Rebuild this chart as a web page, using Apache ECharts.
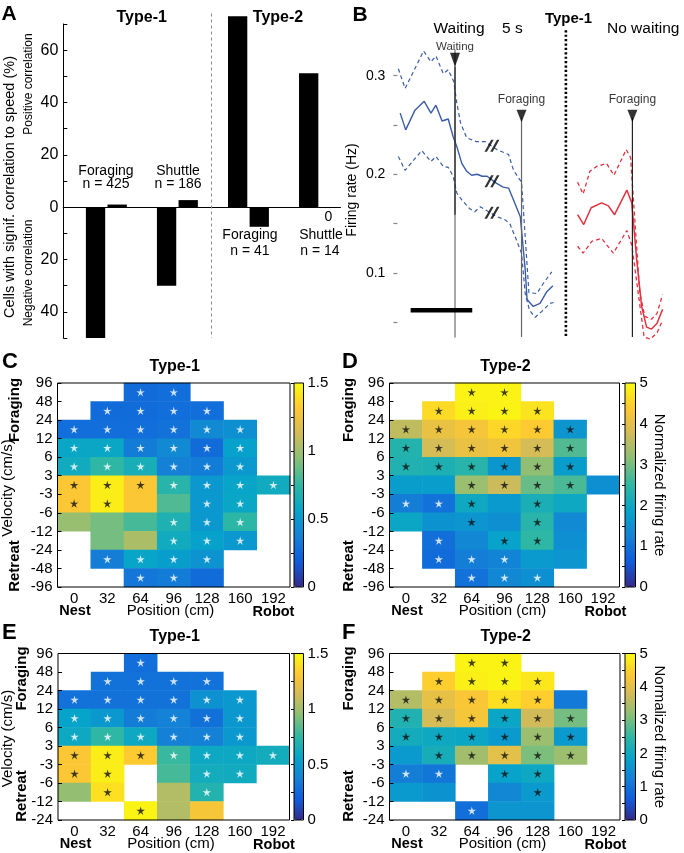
<!DOCTYPE html>
<html><head><meta charset="utf-8">
<script src="https://cdn.jsdelivr.net/npm/echarts@6/dist/echarts.min.js"></script>
<style>html,body{margin:0;padding:0;background:#fff}#c{width:684px;height:853px}</style>
</head><body><div id="c"></div>
<script>
// ===================== DATA =====================
// Panel A: % cells with significant correlation to speed (positive up, negative down)
const aGroups = ['Type-1 Foraging', 'Type-1 Shuttle', 'Type-2 Foraging', 'Type-2 Shuttle'];
const aLeftBar = [-50, -30, 73, 51.2];
const aRightBar = [1, 2.7, -7.5, 0];
const aDividerPos = 2.48;

// Panel B: firing rate (Hz) vs display time (s), waiting onset at t=0
const blueMeanT = [-0.89,-0.80,-0.65,-0.50,-0.39,-0.31,-0.21,-0.11,-0.03,0.03,0.11,0.19,0.27,0.36,0.44,0.52,0.67,0.78,0.87,0.95,1.06,1.08,1.14,1.17,1.27,1.38,1.49,1.59];
const blueMean  = [0.262,0.245,0.265,0.274,0.262,0.270,0.254,0.256,0.238,0.228,0.211,0.203,0.199,0.200,0.198,0.198,0.191,0.187,0.186,0.174,0.157,0.155,0.103,0.073,0.066,0.069,0.081,0.087];
const blueUpperT = [-0.92,-0.81,-0.51,-0.39,-0.31,-0.19,-0.11,-0.02,0.03,0.09,0.19,0.35,0.49,0.68,0.87,0.95,1.08,1.20,1.33,1.43,1.57];
const blueUpper  = [0.307,0.287,0.325,0.314,0.320,0.302,0.306,0.294,0.272,0.252,0.237,0.233,0.233,0.225,0.220,0.204,0.192,0.080,0.079,0.089,0.101];
const blueLowerT = [-0.92,-0.81,-0.54,-0.39,-0.31,-0.19,-0.11,-0.03,0.03,0.11,0.24,0.32,0.41,0.68,0.81,0.89,1.00,1.08,1.14,1.21,1.30,1.41,1.54,1.60];
const blueLower  = [0.218,0.204,0.224,0.213,0.218,0.208,0.207,0.198,0.181,0.174,0.165,0.162,0.167,0.157,0.154,0.150,0.133,0.120,0.079,0.062,0.055,0.061,0.069,0.070];
const redMeanT = [1.99,2.09,2.21,2.38,2.49,2.59,2.79,2.87,2.95,3.03,3.11,3.19,3.28,3.37];
const redMean  = [0.159,0.149,0.166,0.171,0.168,0.159,0.184,0.171,0.113,0.066,0.045,0.043,0.049,0.063];
const redUpperT = [1.99,2.08,2.19,2.30,2.46,2.58,2.78,2.85,3.00,3.08,3.19,3.28,3.37];
const redUpper  = [0.192,0.180,0.203,0.208,0.211,0.199,0.225,0.217,0.080,0.056,0.053,0.059,0.078];
const redLowerT = [1.99,2.08,2.22,2.38,2.57,2.79,2.87,3.07,3.17,3.28,3.37];
const redLower  = [0.127,0.120,0.132,0.135,0.120,0.143,0.128,0.035,0.033,0.039,0.052];
const eventT = [0, 1.08, 2.88];
const eventLabels = ['Waiting', 'Foraging', 'Foraging'];
const eventMarkerV = [0.316, 0.259, 0.259];
const eventLineTop = [0.309, 0.257, 0.257];
const eventLineBottom = [0.159, 0.035, 0.035];
const dividerT = 1.80;
const dividerV = [0.346, 0.035];
const scaleBarT = [-0.72, 0.28];
const scaleBarV = 0.062;
const breakT = 0.60;
const breakV = [0.229, 0.193, 0.161];
const bYTicks = [0.1, 0.2, 0.3];

// Panels C-F: heatmaps (rows top->bottom, columns = position)
const posCats = ['0', '32', '64', '96', '128', '160', '192'];
const velEdgesCD = ['96','48','24','12','6','3','-3','-6','-12','-24','-48','-96'];
const velEdgesEF = ['96','48','24','12','6','3','-3','-6','-12','-24'];
const cRate = [
  [null,null,0.27,0.28,null,null,null],
  [null,0.27,0.27,0.28,0.28,null,null],
  [0.28,0.28,0.28,0.30,0.42,0.45,null],
  [0.58,0.58,0.35,0.42,0.27,0.55,null],
  [0.62,0.75,0.65,0.37,0.35,0.50,null],
  [1.30,1.45,1.30,0.72,0.50,0.57,0.62],
  [1.30,1.45,1.30,0.82,0.50,0.58,null],
  [0.98,0.90,0.80,0.68,0.50,0.74,null],
  [null,0.90,1.03,0.62,0.55,0.50,null],
  [null,0.36,0.57,0.53,0.47,null,null],
  [null,null,0.32,0.35,0.27,null,null]];
const cStars = [
  [0,0,1,1,0,0,0],[0,1,1,1,1,0,0],[1,1,1,1,1,1,0],[1,1,1,1,1,1,0],[1,1,1,1,1,1,0],
  [2,2,2,1,1,1,1],[2,2,0,0,1,1,0],[0,0,0,1,1,1,0],[0,0,0,1,1,1,0],[0,1,1,1,1,0,0],[0,0,1,1,0,0,0]];
const dRate = [
  [null,null,4.9,4.9,null,null,null],
  [null,4.6,4.85,4.9,4.7,null,null],
  [3.6,4.1,4.25,4.55,4.4,1.6,null],
  [2.35,3.8,4.1,4.2,3.8,2.75,null],
  [2.3,2.25,2.4,1.65,3.2,1.75,null],
  [1.75,1.75,3.3,3.7,2.9,2.7,1.5],
  [1.2,1.0,2.0,1.7,2.2,2.0,null],
  [1.95,1.55,1.6,1.5,2.4,1.4,null],
  [null,0.95,1.35,1.85,2.5,1.5,null],
  [null,0.9,1.2,1.3,1.7,1.6,null],
  [null,null,1.0,1.35,1.5,null,null]];
const dStars = [
  [0,0,2,2,0,0,0],[0,2,2,2,2,0,0],[2,2,2,2,2,2,0],[2,2,2,2,2,2,0],[2,2,2,2,2,2,0],
  [0,0,2,2,2,2,0],[1,1,2,0,2,0,0],[0,0,2,0,2,0,0],[0,1,0,2,2,0,0],[0,1,1,1,0,0,0],[0,0,1,1,1,0,0]];
const eRate = [
  [null,null,0.28,null,null,null,null],
  [null,0.30,0.30,0.30,0.30,null,null],
  [0.30,0.30,0.30,0.30,0.46,0.50,null],
  [0.56,0.50,0.35,0.38,0.29,0.50,null],
  [0.60,0.75,0.60,0.37,0.37,0.50,null],
  [1.30,1.45,1.32,0.77,0.60,0.60,0.63],
  [1.30,1.45,null,0.80,0.63,0.62,null],
  [0.97,1.40,null,1.05,0.70,null,null],
  [null,null,1.47,1.05,1.28,null,null]];
const eStars = [
  [0,0,1,0,0,0,0],[0,1,1,1,1,0,0],[1,1,1,1,1,1,0],[1,1,1,1,1,1,0],[1,1,1,1,1,1,0],
  [2,2,2,1,1,1,1],[2,2,0,0,1,1,0],[0,2,0,0,1,0,0],[0,0,2,0,0,0,0]];
const fRate = [
  [null,null,4.9,4.9,null,null,null],
  [null,4.45,4.85,4.9,4.75,null,null],
  [3.5,4.05,4.3,4.65,4.45,1.15,null],
  [2.3,3.8,4.25,1.95,3.75,3.0,null],
  [2.1,2.0,1.95,1.7,3.3,1.7,null],
  [1.7,2.15,3.35,4.0,3.05,3.3,null],
  [1.2,1.05,null,1.85,2.0,null,null],
  [1.7,1.55,null,1.35,1.7,null,null],
  [null,null,0.95,1.6,1.6,null,null]];
const fStars = [
  [0,0,2,2,0,0,0],[0,2,2,2,2,0,0],[2,2,2,2,2,0,0],[2,2,2,2,2,2,0],[2,2,2,2,2,2,0],
  [0,2,2,2,2,2,0],[1,1,0,2,2,0,0],[0,0,0,0,2,0,0],[0,0,1,0,0,0,0]];

// ===================== STYLE / LAYOUT =====================
const FONT = '"Liberation Sans", Arial, Helvetica, sans-serif';
const parula = ['#352a87','#0f5cdd','#1481d6','#06a4ca','#2eb7a4','#87bf77','#d1bb59','#fec832','#f9fb0e'];
const STAR = 'path://M10 0 L12.06 7.17 L19.51 6.91 L13.33 11.08 L15.88 18.09 L10 13.5 L4.12 18.09 L6.67 11.08 L0.49 6.91 L7.94 7.17 Z';
const SLASH = 'path://M0 16 L7 0 L9.6 0 L2.6 16 Z M6 16 L13 0 L15.6 0 L8.6 16 Z';
const BLUE = '#3a5ca6', RED = '#e2323f';

const grids = [], xAxes = [], yAxes = [], series = [], visualMaps = [], graphics = [];
function txt(x, y, s, o) {
  o = o || {};
  graphics.push({type: 'text', x: x, y: y, rotation: o.rot || 0, silent: true, z: 100,
    style: {text: s, fill: o.color || '#000', font: (o.bold ? 'bold ' : '') + (o.size || 14) + 'px ' + FONT,
      align: o.align || 'center', verticalAlign: 'middle', textAlign: o.align || 'center', textVerticalAlign: 'middle'}});
}
function frame(x, y, w, h) {
  graphics.push({type: 'rect', silent: true, z: 100, shape: {x: x, y: y, width: w, height: h},
    style: {fill: 'none', stroke: '#000', lineWidth: 1}});
}
const noSplit = {show: false};

// ---------- Panel A ----------
const aLeft = 63.3, aRight = 340.5, aStep = 71.05, aFirst = 106.35;
grids.push({left: aLeft, top: 24, width: aRight - aLeft, height: 314, outerBoundsMode: 'none'});
xAxes.push({type: 'value', gridIndex: 0, min: 1 - (aFirst - aLeft) / aStep, max: 1 + (aRight - aFirst) / aStep,
  axisLine: {show: true, onZero: true, lineStyle: {color: '#000', width: 1.2}}, axisTick: {show: false},
  axisLabel: {show: false}, splitLine: noSplit});
yAxes.push({type: 'value', gridIndex: 0, min: -50, max: 70, interval: 10,
  axisLine: {show: true, lineStyle: {color: '#000', width: 1}},
  axisTick: {show: true, inside: true, length: 4, lineStyle: {color: '#000'}},
  axisLabel: {fontSize: 16, margin: 5, color: '#000', fontFamily: FONT,
    formatter: v => (Math.round(v) % 20 === 0 ? String(Math.abs(Math.round(v))) : '')},
  splitLine: noSplit});
[aLeftBar, aRightBar].forEach(arr => series.push({type: 'bar', xAxisIndex: 0, yAxisIndex: 0, clip: false, silent: true,
  barWidth: 19.3, barGap: '12%', itemStyle: {color: '#000'},
  data: arr.map((v, i) => [i + 1, v])}));
series.push({type: 'line', xAxisIndex: 0, yAxisIndex: 0, clip: false, silent: true, symbol: 'none',
  lineStyle: {color: '#888', width: 1, type: [3, 3]}, data: [[aDividerPos, 74], [aDividerPos, -50]]});

txt(9, 14, 'A', {bold: true, size: 21});
txt(141.7, 18, 'Type-1', {bold: true, size: 16});
txt(278, 18, 'Type-2', {bold: true, size: 16});
txt(106, 170.7, 'Foraging'); txt(106, 184.5, 'n = 425');
txt(178, 170.7, 'Shuttle'); txt(178, 184.5, 'n = 186');
txt(250, 235, 'Foraging'); txt(250, 251.5, 'n = 41');
txt(328.5, 217.5, '0'); txt(321, 235, 'Shuttle'); txt(320, 251.5, 'n = 14');
txt(10, 187, 'Cells with signif. correlation to speed (%)', {rot: Math.PI / 2, size: 14.5});
txt(29, 84, 'Positive correlation', {rot: Math.PI / 2, size: 12});
txt(29, 273, 'Negative correlation', {rot: Math.PI / 2, size: 12});

// ---------- Panel B ----------
const bLeft = 393.4, bTop = 50, bH = 287, bMin = 0.035, bMax = 0.326, tMin = -1, tMax = 3.7, pxPerS = 61.6;
const bPx = bH / (bMax - bMin);
grids.push({left: bLeft, top: bTop, width: (tMax - tMin) * pxPerS, height: bH, outerBoundsMode: 'none'});
xAxes.push({type: 'value', gridIndex: 1, min: tMin, max: tMax, show: false, splitLine: noSplit});
yAxes.push({type: 'value', gridIndex: 1, min: bMin, max: bMax,
  axisLine: {show: true, lineStyle: {color: '#8a8a8a', width: 1.5}}, axisTick: {show: false},
  axisLabel: {show: false}, splitLine: noSplit});
grids.push({left: bLeft, top: bTop + (bMax - 0.3) * bPx, width: 10, height: 0.25 * bPx, outerBoundsMode: 'none'});
xAxes.push({type: 'value', gridIndex: 2, show: false, splitLine: noSplit});
yAxes.push({type: 'value', gridIndex: 2, min: 0.05, max: 0.3, interval: 0.05,
  axisLine: {show: false}, axisTick: {show: true, inside: true, length: 4, lineStyle: {color: '#888', width: 1.2}},
  axisLabel: {fontSize: 14, margin: 8, color: '#000', fontFamily: FONT,
    formatter: v => (bYTicks.some(t => Math.abs(t - v) < 1e-6) ? v.toFixed(1) : '')},
  splitLine: noSplit});
function addLine(t, v, color, width, type) {
  series.push({type: 'line', xAxisIndex: 1, yAxisIndex: 1, clip: false, silent: true, symbol: 'none', z: 3,
    lineStyle: {color: color, width: width, type: type}, data: t.map((x, i) => [x, v[i]])});
}
addLine(blueUpperT, blueUpper, BLUE, 1.2, [4, 3]);
addLine(blueLowerT, blueLower, BLUE, 1.2, [4, 3]);
addLine(blueMeanT, blueMean, BLUE, 1.4, 'solid');
addLine(redUpperT, redUpper, RED, 1.3, [4, 3]);
addLine(redLowerT, redLower, RED, 1.3, [4, 3]);
addLine(redMeanT, redMean, RED, 1.5, 'solid');
eventT.forEach((t, i) => addLine([t, t], [eventLineTop[i], eventLineBottom[i]], i === 1 ? '#666' : '#222', 1.2, 'solid'));
addLine([dividerT, dividerT], dividerV, '#000', 2.6, [2.2, 2.2]);
addLine(scaleBarT, [scaleBarV, scaleBarV], '#000', 4.5, 'solid');
series.push({type: 'scatter', xAxisIndex: 1, yAxisIndex: 1, silent: true, clip: false, z: 6,
  symbol: 'triangle', symbolRotate: 180, itemStyle: {color: '#000'},
  data: eventT.map((t, i) => ({value: [t, eventMarkerV[i]], symbolSize: i === 0 ? [10, 14] : [10, 12.5],
    label: {show: true, position: 'top', distance: i === 0 ? 0 : 4, formatter: eventLabels[i],
      fontSize: i === 0 ? 11.5 : 12, color: '#000', fontFamily: FONT}}))});
series.push({type: 'scatter', xAxisIndex: 1, yAxisIndex: 1, silent: true, clip: false, z: 7,
  symbol: SLASH, symbolSize: [15, 12], itemStyle: {color: '#000'},
  data: breakV.map(v => [breakT, v])});

txt(360, 15, 'B', {bold: true, size: 21});
txt(433.5, 28.5, 'Waiting', {align: 'left', size: 15.5});
txt(502, 28.5, '5 s', {align: 'left', size: 15.5});
txt(568.5, 18.5, 'Type-1', {bold: true, size: 15});
txt(607, 28.5, 'No waiting', {align: 'left', size: 15.5});
txt(352, 190, 'Firing rate (Hz)', {rot: Math.PI / 2, size: 14});

// ---------- Panels C-F ----------
const heatPanels = [
  {letter: 'C', title: 'Type-1', rates: cRate, stars: cStars, edges: velEdgesCD, max: 1.5, tick: 0.25, lab: 0.5,
   L: 57.5, T: 383, W: 232.5, H: 204, cbL: 294, cbW: 9.5, letterX: 2},
  {letter: 'D', title: 'Type-2', rates: dRate, stars: dStars, edges: velEdgesCD, max: 5, tick: 0.5, lab: 1,
   L: 389.5, T: 383, W: 230, H: 204, cbL: 625, cbW: 10.5, letterX: 342},
  {letter: 'E', title: 'Type-1', rates: eRate, stars: eStars, edges: velEdgesEF, max: 1.5, tick: 0.25, lab: 0.5,
   L: 58, T: 653.5, W: 231.5, H: 166.5, cbL: 294, cbW: 9.5, letterX: 2},
  {letter: 'F', title: 'Type-2', rates: fRate, stars: fStars, edges: velEdgesEF, max: 5, tick: 0.5, lab: 1,
   L: 389.5, T: 653.5, W: 230.5, H: 166.5, cbL: 625, cbW: 10.5, letterX: 342}
];
heatPanels.forEach(p => {
  const nRows = p.rates.length;
  const gi = grids.length;
  grids.push({left: p.L, top: p.T, width: p.W, height: p.H, outerBoundsMode: 'none'});
  const xi = xAxes.length;
  xAxes.push({type: 'category', gridIndex: gi, data: posCats, axisLine: {show: false}, axisTick: {show: false},
    axisLabel: {fontSize: 15, margin: 4, color: '#000', fontFamily: FONT}, splitLine: noSplit});
  const yCat = yAxes.length;
  yAxes.push({type: 'category', gridIndex: gi, data: p.edges.slice(0, -1), inverse: true, show: false, position: 'left'});
  yAxes.push({type: 'value', gridIndex: gi, min: 0, max: nRows, interval: 1, position: 'left', z: 10,
    axisLine: {show: false}, axisTick: {show: true, inside: true, length: 4, lineStyle: {color: '#000'}},
    axisLabel: {fontSize: 15, margin: 5, color: '#000', fontFamily: FONT, formatter: v => p.edges[nRows - Math.round(v)]},
    splitLine: noSplit});
  const cells = [], starItems = [];
  p.rates.forEach((row, r) => row.forEach((v, c) => {
    if (v !== null) cells.push([c, r, v]);
    const s = p.stars[r][c];
    if (s) starItems.push({value: [c, r], itemStyle: {color: s === 1 ? '#ffffff' : '#111111'}});
  }));
  const hs = series.length;
  series.push({type: 'heatmap', xAxisIndex: xi, yAxisIndex: yCat, data: cells, silent: true, z: 2,
    itemStyle: {borderWidth: 0}, emphasis: {disabled: true}});
  series.push({type: 'scatter', xAxisIndex: xi, yAxisIndex: yCat, data: starItems, silent: true, z: 5,
    symbol: STAR, symbolSize: 8.5});
  // colorbar
  const cg = grids.length;
  grids.push({left: p.cbL, top: p.T, width: p.cbW, height: p.H, outerBoundsMode: 'none'});
  xAxes.push({type: 'value', gridIndex: cg, show: false, splitLine: noSplit});
  yAxes.push({type: 'value', gridIndex: cg, min: 0, max: p.max, interval: p.tick, position: 'right', z: 10,
    axisLine: {show: false}, axisTick: {show: true, inside: true, length: 3, lineStyle: {color: '#000'}},
    axisLabel: {fontSize: 15, margin: 4, color: '#000', fontFamily: FONT,
      formatter: v => (Math.abs(v / p.lab - Math.round(v / p.lab)) < 1e-6 ? String(+v.toFixed(2)) : '')},
    splitLine: noSplit});
  visualMaps.push({type: 'continuous', seriesIndex: hs, dimension: 2, min: 0, max: p.max,
    inRange: {color: parula}, calculable: false, hoverLink: false, orient: 'vertical',
    left: p.cbL, top: p.T, itemWidth: p.cbW, itemHeight: p.H, padding: 0, z: 3});
  frame(p.L, p.T, p.W, p.H);
  frame(p.cbL, p.T, p.cbW, p.H);
  // texts
  const bottom = p.T + p.H;
  txt(p.letterX, p.T - 21, p.letter, {bold: true, size: 22, align: 'left'});
  txt(p.L + p.W / 2 + 1, p.T - 16.5, p.title, {bold: true, size: 16});
  txt(p.L + 17.5, bottom + 24, 'Nest', {bold: true, size: 14.5});
  txt(p.L + 113, bottom + 24, 'Position (cm)', {size: 15});
  txt(p.L + 216, bottom + 25, 'Robot', {bold: true, size: 14.5});
  const isLeft = p.L < 200;
  const labX = isLeft ? (p.H > 180 ? 15 : 22) : 349;
  txt(labX, p.T + (p.H > 180 ? 27 : 25), 'Foraging', {bold: true, size: 15, rot: Math.PI / 2});
  txt(labX, bottom - (p.H > 180 ? 21 : 24), 'Retreat', {bold: true, size: 15, rot: Math.PI / 2});
  if (isLeft) txt(8, p.T + (p.H > 180 ? 105 : 85), 'Velocity (cm/s)', {size: 15, rot: Math.PI / 2});
  else txt(659.5, p.T + p.H / 2, 'Normalized firing rate', {size: 15, rot: -Math.PI / 2});
});

const chart = echarts.init(document.getElementById('c'));
chart.setOption({
  animation: false,
  backgroundColor: '#fff',
  textStyle: {fontFamily: FONT},
  grid: grids, xAxis: xAxes, yAxis: yAxes, series: series, visualMap: visualMaps,
  graphic: {elements: graphics}
});
</script>
</body></html>
